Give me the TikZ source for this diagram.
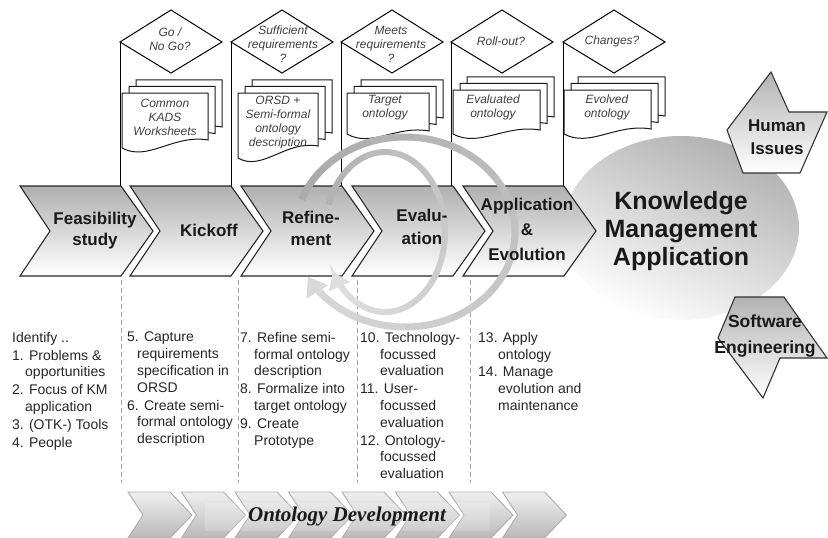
\documentclass[tikz,border=0pt]{standalone}
\usepackage{fontspec}
\setmainfont{Liberation Sans}
\newfontfamily\ttimes{Liberation Serif}
\usetikzlibrary{arrows.meta}
\tikzset{
  chev/.style={draw=black!85, line width=1.1pt, top color=gray!62, bottom color=white},
  stripchev/.style={draw=gray!65, line width=0.9pt, top color=gray!12, bottom color=gray!55},
  sidebox/.style={draw=black!80, line width=1.1pt, top color=gray!60, bottom color=white},
  chevlab/.style={font=\fontsize{17}{21}\selectfont\bfseries, align=center, text=black!90, inner sep=0pt},
  decis/.style={draw=black, line width=1pt, fill=white},
  docbox/.style={draw=black!90, line width=1pt, fill=white},
  doctxt/.style={font=\fontsize{12}{14}\selectfont\itshape, align=center, text=black!75, inner sep=0pt},
  lst/.style={font=\fontsize{14}{16.8}\selectfont, align=left, anchor=north west, text=black!85, inner sep=0pt},
  colline/.style={draw=black, line width=1pt},
  dashl/.style={draw=gray!70, line width=1pt, dash pattern=on 5pt off 3pt},
}
\newcommand\docstack[5]{%
  \foreach \o in {14,7,0}{%
    \pgfmathsetmacro\dy{\o*0.93}%
    \draw[docbox] ({#1+\o},{#5-\dy}) -- ({#1+\o},{#2-\dy}) -- ({#1+#3+\o},{#2-\dy}) -- ({#1+#3+\o},{#4-\dy})
      .. controls ({#1+0.6*#3+\o},{#4-6-\dy}) and ({#1+0.3*#3+\o},{#5+14-\dy}) .. ({#1+\o},{#5-\dy}) -- cycle;
  }}
\begin{document}
\begin{tikzpicture}[x=1pt,y=-1pt]
\useasboundingbox (0,0) rectangle (828,538);
% big ellipse
\shade[top color=gray!62, bottom color=white, shading angle=-25] (681,228) ellipse [x radius=118, y radius=92];
% column lines and diamonds
\foreach \c in {120,231,341,451,563}{%
  \draw[colline] (\c,42) -- (\c,186);
  \draw[decis] (\c,42) -- ++(51,-32) -- ++(51,32) -- ++(-51,31) -- cycle;
}
% documents
\docstack{122}{93}{86}{140}{148}
\docstack{238}{93}{80}{146}{158}
\docstack{347}{93}{82}{131}{134}
\docstack{453}{90}{87}{130}{134}
\docstack{564}{90}{87}{129}{134}
% main chevrons
\foreach \x in {20,130,241,352,463}{%
  \draw[chev] (\x,186) -- ++(101,0) -- ++(32,45) -- ++(-32,45) -- ++(-101,0) -- ++(30,-45) -- cycle;
}
% side shapes
\draw[sidebox] (771,72) -- (789,112) -- (827,112) -- (800,173) -- (743,173) -- (727,130) -- cycle;
\draw[sidebox] (735,297) -- (784,297) -- (827,358) -- (780,358) -- (763,398) -- (718,338) -- cycle;
% dashed separators
\foreach \x in {121,238,357,470}{\draw[dashl] (\x,280) -- (\x,483);}
% bottom strip
\foreach \i in {0,...,7}{%
  \pgfmathsetmacro\xx{128+53.5*\i}
  \draw[stripchev] (\xx,492) -- ++(42,0) -- ++(22,23) -- ++(-22,23) -- ++(-42,0) -- ++(15,-23) -- cycle;
}
\fill[white, opacity=0.2] (205,503) rectangle (490,531);
% rings
\foreach \i in {0,...,11}{%
  \pgfmathtruncatemacro\sa{200+25*\i}%
  \pgfmathtruncatemacro\sh{66-3*\i}%
  \draw[line width=7pt, draw=gray!\sh] (405,232) ++(\sa:110 and 95) arc[start angle=\sa, end angle=\sa+26, x radius=110, y radius=95];
}
\draw[line width=7pt, draw=gray!30, -{Triangle[width=24pt,length=18pt]}] (405,232) ++(500:110 and 95) arc[start angle=500, end angle=512, x radius=110, y radius=95];
\foreach \i in {0,...,11}{%
  \pgfmathtruncatemacro\sa{200+25*\i}%
  \pgfmathtruncatemacro\sh{60-3*\i}%
  \draw[line width=6pt, draw=gray!\sh] (385,232) ++(\sa:60 and 80) arc[start angle=\sa, end angle=\sa+26, x radius=60, y radius=80];
}
\draw[line width=6pt, draw=gray!25, -{Triangle[width=22pt,length=16pt]}] (385,232) ++(500:60 and 80) arc[start angle=500, end angle=510, x radius=60, y radius=80];
% labels
\node[chevlab] (feas) at (95,231) {Feasibility\\study};
\node[chevlab] (kick) at (209,230) {Kickoff};
\node[chevlab, font=\fontsize{17}{22}\selectfont\bfseries] (refi) at (311,228) {Refine-\\ment};
\node[chevlab, font=\fontsize{17}{23}\selectfont\bfseries] (eval) at (422,227) {Evalu-\\ation};
\node[chevlab, font=\fontsize{17}{25}\selectfont\bfseries] (appl) at (527,229) {Application\\\&\\Evolution};
\node[font=\fontsize{25}{28}\selectfont\bfseries, align=center, text=black!90, inner sep=0pt] (km) at (681,231) {Knowledge\\Management\\Application};
\node[chevlab, font=\fontsize{17}{23}\selectfont\bfseries] (hum) at (777,137) {Human\\Issues};
\node[chevlab, font=\fontsize{17.5}{26}\selectfont\bfseries] (sw) at (765,336) {Software\\Engineering};
\node[doctxt] (q1) at (170,39) {Go /\\No Go?};
\node[doctxt] (q2) at (283,44) {Sufficient\\requirements\\?};
\node[doctxt] (q3) at (391,44) {Meets\\requirements\\?};
\node[doctxt] (q4) at (501,41) {Roll-out?};
\node[doctxt] (q5) at (612,41) {Changes?};
\node[doctxt] (d1) at (165,117) {Common\\KADS\\Worksheets};
\node[doctxt] (d2) at (278,123) {ORSD +\\Semi-formal\\ontology\\description};
\node[doctxt] (d3) at (385,108) {Target\\ontology};
\node[doctxt] (d4) at (493,107) {Evaluated\\ontology};
\node[doctxt] (d5) at (607,107) {Evolved\\ontology};
\node[lst] (l0) at (12,332) {Identify ..\\[1pt]1. Problems \&\\\hspace*{13pt}opportunities\\[1pt]2. Focus of KM\\\hspace*{13pt}application\\[1pt]3. (OTK-) Tools\\[1pt]4. People};
\node[lst] (l1) at (127,332) {5. Capture\\\hspace*{10pt}requirements\\\hspace*{10pt}specification in\\\hspace*{10pt}ORSD\\[1pt]6. Create semi-\\\hspace*{10pt}formal ontology\\\hspace*{10pt}description};
\node[lst] (l2) at (240,332) {7. Refine semi-\\\hspace*{14pt}formal ontology\\\hspace*{14pt}description\\[1pt]8. Formalize into\\\hspace*{14pt}target ontology\\[1pt]9. Create\\\hspace*{14pt}Prototype};
\node[lst] (l3) at (360,332) {10. Technology-\\\hspace*{20pt}focussed\\\hspace*{20pt}evaluation\\[1pt]11. User-\\\hspace*{20pt}focussed\\\hspace*{20pt}evaluation\\[1pt]12. Ontology-\\\hspace*{20pt}focussed\\\hspace*{20pt}evaluation};
\node[lst] (l4) at (478,332) {13. Apply\\\hspace*{20pt}ontology\\[1pt]14. Manage\\\hspace*{20pt}evolution and\\\hspace*{20pt}maintenance};
\node[font=\ttimes\bfseries\itshape\fontsize{21}{24}\selectfont, text=black!90, inner sep=0pt] (od) at (347,516) {Ontology Development};
\end{tikzpicture}
\end{document}
